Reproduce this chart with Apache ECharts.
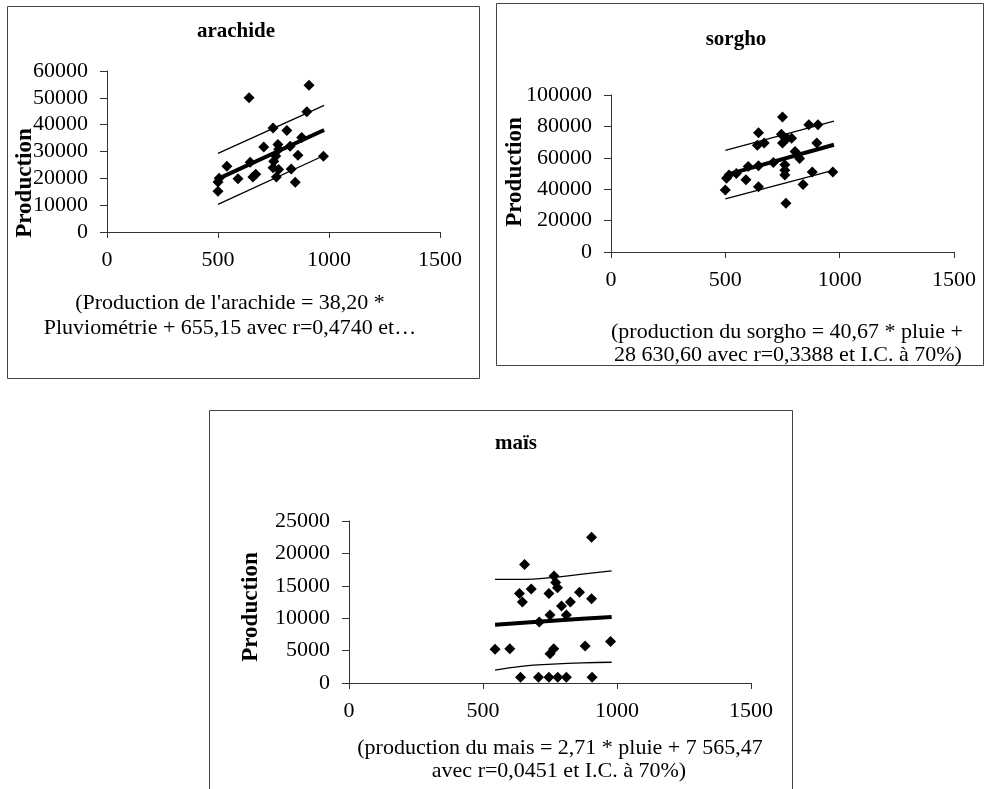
<!DOCTYPE html>
<html>
<head>
<meta charset="utf-8">
<title>Production et pluviométrie</title>
<script src="https://cdn.jsdelivr.net/npm/echarts@6/dist/echarts.min.js"></script>
<style>
    body { margin: 0; background: #fff; }
    #main { width: 987px; height: 789px; }
</style>
</head>
<body>
<div id="main"></div>
<script>
// arachide : pluviométrie (x) / production (y)
const arachideX = [500, 500, 505, 540, 590, 640, 645, 657, 670, 706, 748, 810, 770, 773, 760, 751, 748, 763, 773, 830, 848, 860, 877, 900, 910, 975, 825];
const arachideY = [15200, 18600, 20000, 24500, 19800, 50000, 26000, 20500, 21500, 31700, 38800, 37800, 32600, 30800, 28300, 26400, 23900, 20500, 23300, 23500, 18500, 28600, 35200, 44800, 54700, 28200, 32000];
const arachideLigneX = [500, 978];
const arachideDroite = [19800, 38000];
const arachideHaut = [29300, 47200];
const arachideBas = [10300, 28500];

// sorgho
const sorghoX = [750, 645, 865, 905, 640, 670, 745, 750, 770, 790, 900, 805, 825, 710, 600, 645, 760, 760, 760, 505, 516, 548, 590, 500, 645, 840, 880, 970, 765];
const sorghoY = [86000, 76000, 81000, 81000, 68000, 69500, 75000, 69500, 72500, 72500, 69500, 64000, 59500, 57000, 54500, 55000, 55500, 52000, 49000, 47000, 49000, 50000, 46000, 39500, 41500, 43000, 51000, 51000, 31000];
const sorghoLigneX = [500, 975];
const sorghoDroite = [49000, 68300];
const sorghoHaut = [64800, 83300];
const sorghoBas = [33800, 52200];

// maïs
const maisX = [905, 655, 765, 771, 778, 680, 636, 647, 746, 860, 905, 826, 793, 750, 811, 710, 545, 600, 764, 750, 881, 976, 640, 707, 746, 779, 811, 907];
const maisY = [22500, 18300, 16500, 15500, 14700, 14500, 13800, 12500, 13800, 14000, 13000, 12500, 11900, 10500, 10500, 9400, 5200, 5300, 5300, 4500, 5700, 6400, 900, 900, 900, 900, 900, 900];
const maisLigneX = [545, 650, 760, 870, 980];
const maisDroite = [9000, 9300, 9600, 9900, 10200];
const maisHaut = [16000, 16000, 16300, 16800, 17300];
const maisBas = [2000, 2600, 2900, 3100, 3200];

// axes
const xMax = 1500, xPas = 500;
const yMax = [60000, 100000, 25000];
const yPas = [10000, 20000, 5000];

const police = '"Liberation Serif", "Times New Roman", serif';
const noir = '#000';
const trait = '#333';

function points(xs, ys) {
    return xs.map((x, i) => [x, ys[i]]);
}

let grids = [
    {left: 107, top: 71, width: 333, height: 161},
    {left: 611, top: 95, width: 343, height: 157},
    {left: 349, top: 521, width: 402, height: 162}
];

let xAxes = [], yAxes = [];
grids.forEach((g, i) => {
    // axe principal, graduations vers l'extérieur
    xAxes.push({
        gridIndex: i, type: 'value', min: 0, max: xMax, interval: xPas,
        axisLine: {lineStyle: {color: trait, width: 1}},
        axisTick: {length: 6, lineStyle: {color: trait}},
        axisLabel: {color: noir, fontFamily: police, fontSize: 22, margin: 17, formatter: v => String(v)},
        splitLine: {show: false}
    });
    // copie : graduations vers l'intérieur (croisées comme dans Excel)
    xAxes.push({
        gridIndex: i, type: 'value', min: 0, max: xMax, interval: xPas,
        axisLine: {show: false},
        axisTick: {inside: true, length: 6, lineStyle: {color: trait}},
        axisLabel: {show: false},
        splitLine: {show: false}
    });
    yAxes.push({
        gridIndex: i, type: 'value', min: 0, max: yMax[i], interval: yPas[i],
        axisLine: {show: true, lineStyle: {color: trait, width: 1}},
        axisTick: {show: true, length: 7, lineStyle: {color: trait}},
        axisLabel: {color: noir, fontFamily: police, fontSize: 22, margin: 19, formatter: v => String(v)},
        splitLine: {show: false}
    });
    yAxes.push({
        gridIndex: i, type: 'value', min: 0, max: yMax[i], interval: yPas[i],
        axisLine: {show: false},
        axisTick: {show: true, inside: true, length: 6, lineStyle: {color: trait}},
        axisLabel: {show: false},
        splitLine: {show: false}
    });
});

function nuage(name, i, xs, ys) {
    return {
        name: name, type: 'scatter', xAxisIndex: i * 2, yAxisIndex: i * 2,
        data: points(xs, ys), symbol: 'diamond', symbolSize: 11,
        itemStyle: {color: noir, opacity: 1}, z: 3
    };
}
function ligne(name, i, xs, ys, w) {
    return {
        name: name, type: 'line', xAxisIndex: i * 2, yAxisIndex: i * 2,
        data: points(xs, ys), showSymbol: false, smooth: true,
        lineStyle: {color: noir, width: w}, z: 4
    };
}

let series = [
    nuage('arachide', 0, arachideX, arachideY),
    ligne('arachide droite', 0, arachideLigneX, arachideDroite, 4),
    ligne('arachide haut', 0, arachideLigneX, arachideHaut, 1.3),
    ligne('arachide bas', 0, arachideLigneX, arachideBas, 1.3),
    nuage('sorgho', 1, sorghoX, sorghoY),
    ligne('sorgho droite', 1, sorghoLigneX, sorghoDroite, 4),
    ligne('sorgho haut', 1, sorghoLigneX, sorghoHaut, 1.3),
    ligne('sorgho bas', 1, sorghoLigneX, sorghoBas, 1.3),
    nuage('maïs', 2, maisX, maisY),
    ligne('maïs droite', 2, maisLigneX, maisDroite, 4),
    ligne('maïs haut', 2, maisLigneX, maisHaut, 1.3),
    ligne('maïs bas', 2, maisLigneX, maisBas, 1.3)
];

function texte(t, x, y, gras, taille, rot) {
    return {
        type: 'text', x: x, y: y, rotation: rot || 0, z: 10,
        style: {
            text: t, fill: noir,
            font: (gras ? 'bold ' : '') + taille + 'px ' + police,
            align: 'center', verticalAlign: 'middle',
            textAlign: 'center', textVerticalAlign: 'middle'
        }
    };
}
function cadre(x, y, w, h) {
    return {
        type: 'rect', shape: {x: x + 0.5, y: y + 0.5, width: w, height: h}, z: 0,
        style: {fill: 'none', stroke: '#444', lineWidth: 1}
    };
}

let graphic = [
    cadre(7, 6, 472, 372),
    cadre(496, 3, 487, 362),
    cadre(209, 410, 583, 400),
    texte('arachide', 236, 32, true, 21),
    texte('sorgho', 736, 40, true, 21),
    texte('maïs', 516, 444, true, 21),
    texte('Production', 25, 183, true, 23, Math.PI / 2),
    texte('Production', 515, 172, true, 23, Math.PI / 2),
    texte('Production', 251, 607, true, 23, Math.PI / 2),
    texte("(Production de l'arachide = 38,20 *", 230, 303, false, 22),
    texte('Pluviométrie + 655,15 avec r=0,4740 et…', 230, 328, false, 22),
    texte('(production du sorgho = 40,67 * pluie +', 787, 332, false, 22),
    texte('28 630,60 avec r=0,3388 et I.C. à 70%)', 788, 355, false, 22),
    texte('(production du mais = 2,71 * pluie + 7 565,47', 560, 748, false, 22),
    texte('avec r=0,0451 et I.C. à 70%)', 559, 771, false, 22)
];

let myChart = echarts.init(document.getElementById('main'));
myChart.setOption({
    backgroundColor: '#fff',
    animation: false,
    grid: grids,
    xAxis: xAxes,
    yAxis: yAxes,
    series: series,
    graphic: graphic
});
</script>
</body>
</html>
